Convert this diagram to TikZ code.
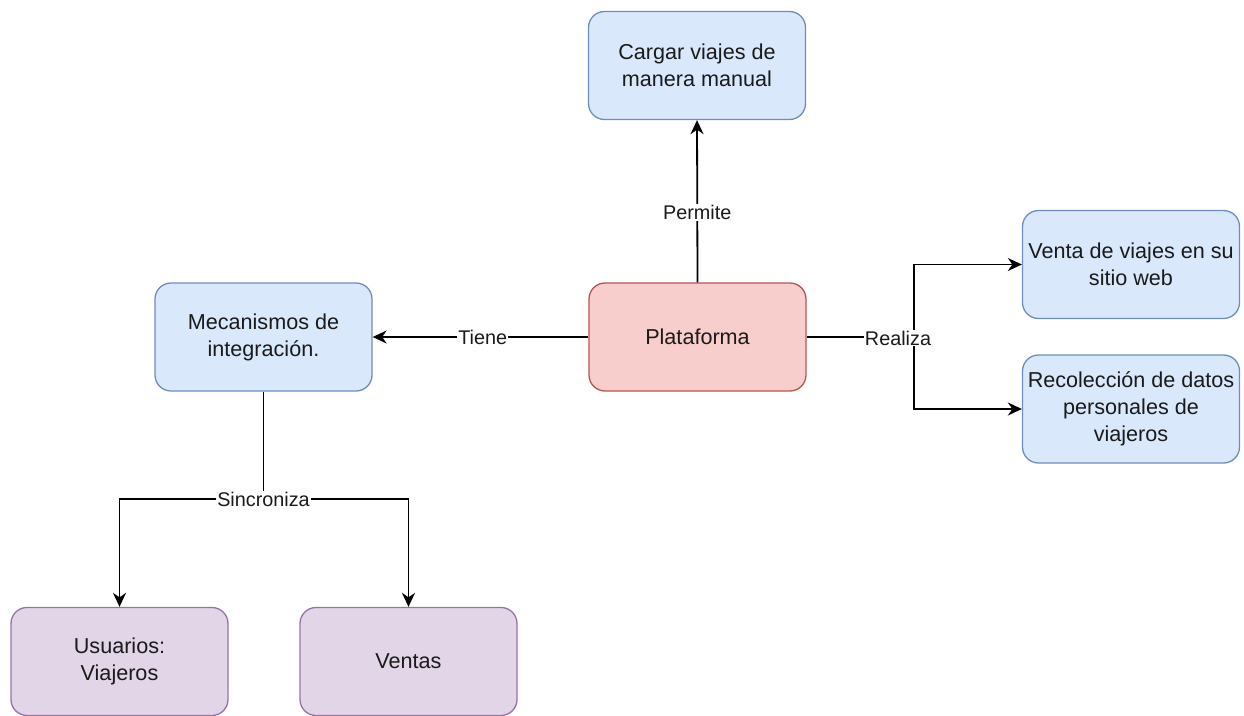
\documentclass[tikz,border=0pt]{standalone}
\usepackage{fontspec}
\setmainfont{Liberation Sans}
\usetikzlibrary{arrows.meta}

\definecolor{bluefill}{HTML}{DAE8FC}
\definecolor{bluedraw}{HTML}{6C8EBF}
\definecolor{redfill}{HTML}{F8CECC}
\definecolor{reddraw}{HTML}{B85450}
\definecolor{purplefill}{HTML}{E1D5E7}
\definecolor{purpledraw}{HTML}{9673A6}
\definecolor{ink}{HTML}{1A1A1A}

\tikzset{
  box/.style={rectangle, rounded corners=16pt, line width=1.3pt,
    minimum width=217pt, minimum height=108pt,
    align=center, font=\fontsize{21.6pt}{27pt}\selectfont, text=ink,
    inner sep=0pt},
  bluebox/.style={box, fill=bluefill, draw=bluedraw},
  redbox/.style={box, fill=redfill, draw=reddraw},
  purplebox/.style={box, fill=purplefill, draw=purpledraw},
  conn/.style={line width=1.8pt, draw=black},
  arr/.style={conn, -{Stealth[length=14pt, width=13pt, inset=4.5pt]}},
  lbl/.style={fill=white, inner sep=1pt, text=ink,
    font=\fontsize{19.8pt}{22pt}\selectfont}
}

\begin{document}
\begin{tikzpicture}[x=1pt, y=-1pt]
  \useasboundingbox (0,0) rectangle (1244,715);

  % boxes
  \node[bluebox] (cargar) at (697,65.5) {Cargar viajes de\\manera manual};
  \node[redbox] (plat) at (697.5,337) {Plataforma};
  \node[bluebox] (mec) at (263.5,337) {Mecanismos de\\integración.};
  \node[bluebox] (venta) at (1131,264.5) {Venta de viajes en su\\sitio web};
  \node[bluebox] (reco) at (1131,409) {Recolección de datos\\personales de\\viajeros};
  \node[purplebox] (usu) at (119.5,661.5) {Usuarios:\\Viajeros};
  \node[purplebox] (ventas) at (408.5,661.5) {Ventas};

  % branching points
  \coordinate (rj) at (914,337);
  \coordinate (sj) at (263.5,499);

  % connectors
  \draw[arr] (plat.north) -- node[lbl, pos=0.43] {Permite} (cargar.south);
  \draw[arr] (plat.west) -- node[lbl, pos=0.49] {Tiene} (mec.east);

  \draw[conn] (plat.east) -- (rj);
  \draw[arr] (rj) |- (venta.west);
  \draw[arr] (rj) |- (reco.west);

  \draw[conn] (mec.south) -- (sj);
  \draw[arr] (sj) -| (usu.north);
  \draw[arr] (sj) -| (ventas.north);

  % labels over the branching lines
  \node[lbl] (realiza) at (898,338) {Realiza};
  \node[lbl] (sinc) at (263.5,499) {Sincroniza};
\end{tikzpicture}
\end{document}
